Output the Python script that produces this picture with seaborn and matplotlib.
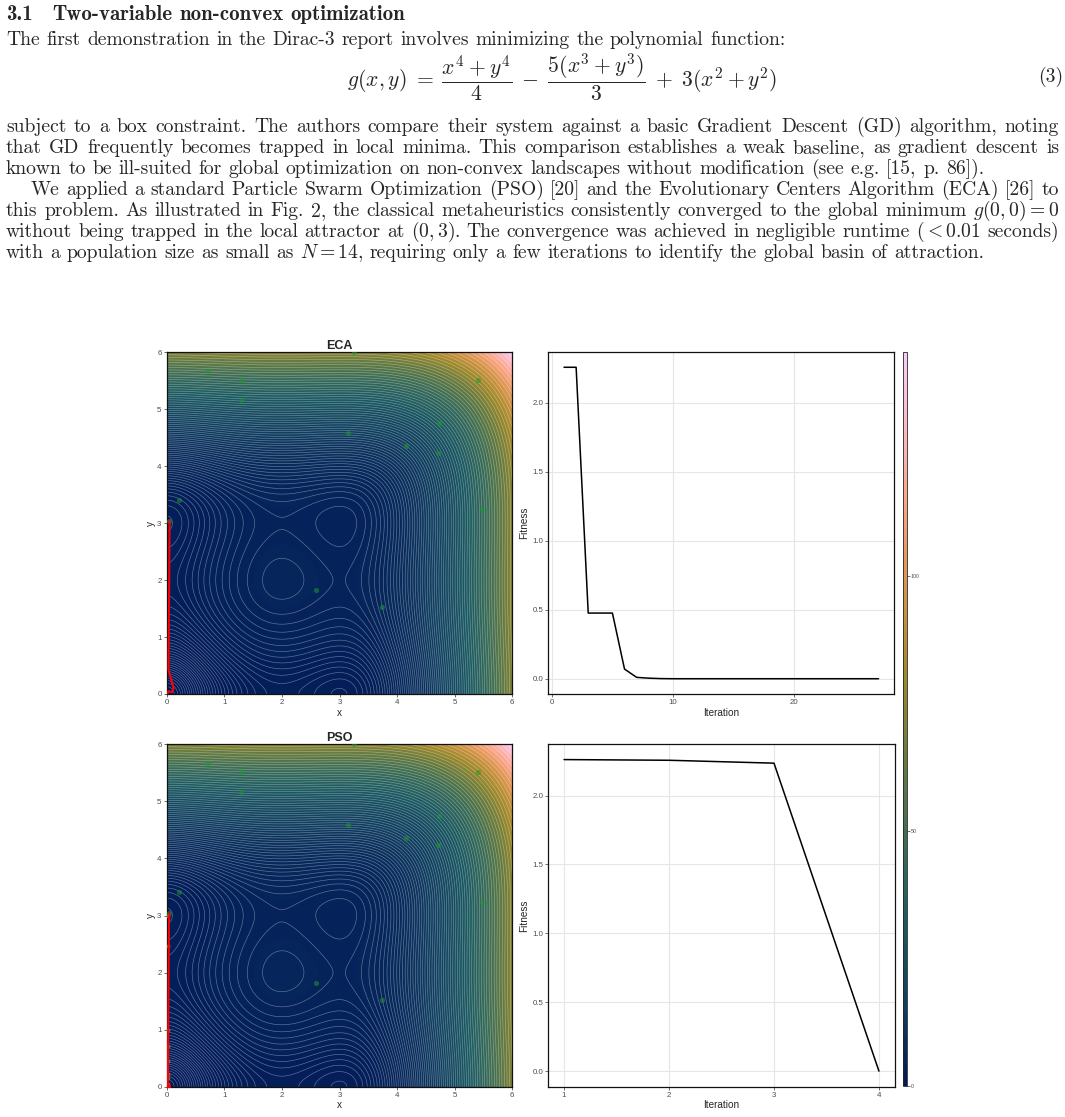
#!/usr/bin/env python3

import matplotlib
matplotlib.use("Agg")
from matplotlib import pyplot as plt
from matplotlib.colors import LinearSegmentedColormap
import numpy as np
import pandas as pd
import seaborn as sns


# g(x, y) = (x^4 + y^4)/4 - 5(x^3 + y^3)/3 + 3(x^2 + y^2)
coef_quartic = 1 / 4
coef_cubic = -5 / 3
coef_square = 3
box_lim = (0, 6)
cbar_ticks = [0, 50, 100]

# initial population (same seed for both runs)
pop_x = [3.26, 0.71, 1.31, 1.29, 5.40, 4.72, 3.14, 4.16, 4.71, 0.21, 0.04, 5.47, 2.59, 3.74]
pop_y = [6.00, 5.67, 5.51, 5.17, 5.51, 4.75, 4.58, 4.36, 4.23, 3.41, 3.04, 3.24, 1.82, 1.52]

# best-so-far trajectories
eca_path_x = [0.05, 0.04, 0.03, 0.12, 0.09, 0.03, 0.01]
eca_path_y = [3.04, 1.50, 0.43, 0.10, 0.03, 0.05, 0.01]
pso_path_x = [0.05, 0.05, 0.04, 0.02]
pso_path_y = [3.03, 3.02, 2.98, 0.02]

# final PSO swarm
pso_final_x = [0.03, 0.02, 0.02, 0.02, 0.02, 0.02, 0.02, 0.02]
pso_final_y = [3.00, 2.47, 1.00, 0.71, 0.45, 0.23, 0.16, 0.05]

eca_fitness = [2.258, 2.258, 0.476, 0.476, 0.476, 0.070, 0.010, 0.004, 0.001] + [0.0] * 18
pso_fitness = [2.261, 2.256, 2.235, 0.0]

batlow = LinearSegmentedColormap.from_list("batlow", [
        "#011959", "#103F60", "#1C5A62", "#3C6D56", "#687B3E",
        "#9D892B", "#D29343", "#F8A17B", "#FDB7BC", "#FACCFA",
        ])

heading_num = "3.1"
heading = "Two-variable non-convex optimization"
intro = "The first demonstration in the Dirac-3 report involves minimizing the polynomial function:"
formula = (r"$g(x,y)\;=\;\dfrac{x^4+y^4}{4}\;-\;\dfrac{5(x^3+y^3)}{3}"
           r"\;+\;3(x^2+y^2)$")
para1 = [
        "subject to a box constraint. The authors compare their system against a basic Gradient Descent (GD) algorithm, noting",
        "that GD frequently becomes trapped in local minima. This comparison establishes a weak baseline, as gradient descent is",
        "known to be ill-suited for global optimization on non-convex landscapes without modification (see e.g. [15, p. 86]).",
        ]
para2 = [
        "We applied a standard Particle Swarm Optimization (PSO) [20] and the Evolutionary Centers Algorithm (ECA) [26] to",
        "this problem. As illustrated in Fig. 2, the classical metaheuristics consistently converged to the global minimum $g(0,0)=0$",
        "without being trapped in the local attractor at $(0,3)$. The convergence was achieved in negligible runtime ($<0.01$ seconds)",
        "with a population size as small as $N=14$, requiring only a few iterations to identify the global basin of attraction.",
        ]


W, H = 1065, 1117
BODY = 14.1


def box(fig, l, t, r, b):
    return fig.add_axes([l / W, 1 - b / H, (r - l) / W, (b - t) / H])


def text_line(fig, line, base, x0=6, x1=1059, size=BODY, family="cmr10",
              justify=True, **kw):
    tokens = line.split()
    items = [fig.text(0, 1 - base / H, tk, fontsize=size, family=family,
                      va="baseline", **kw) for tk in tokens]
    rend = fig.canvas.get_renderer()
    widths = [t.get_window_extent(rend).width for t in items]
    if justify and len(items) > 1:
        gap = (x1 - x0 - sum(widths)) / (len(items) - 1)
    else:
        gap = size * 100 / 72 * 0.333
    x = x0
    for t, w in zip(items, widths):
        t.set_x(x / W)
        x += w + gap


def field_panel(ax, G, X, Y, title, path_x, path_y, extra=None):
    im = ax.imshow(G, extent=[*box_lim, *box_lim], origin="lower", cmap=batlow,
                   vmin=0, vmax=144, aspect="auto", interpolation="bilinear")
    levels = np.expm1(np.linspace(0, np.log1p(G.max()), 110))
    ax.contour(X, Y, G, levels=levels, colors="white", linewidths=0.45,
               alpha=0.38)
    sns.scatterplot(x=pop_x, y=pop_y, ax=ax, color="#1c9a2c", alpha=0.55,
                    s=14, linewidth=0, legend=False, zorder=3)
    if extra is not None:
        sns.scatterplot(x=extra[0], y=extra[1], ax=ax, color="#d08a30",
                        alpha=0.65, s=8, linewidth=0, legend=False, zorder=3)
    sns.lineplot(x=path_x, y=path_y, sort=False, estimator=None, ax=ax,
                 color="red", lw=1.5, zorder=4)
    if extra is not None:
        sns.scatterplot(x=path_x[-1:], y=path_y[-1:], ax=ax, color="red",
                        s=14, linewidth=0, legend=False, zorder=5)
    ax.set_xlim(*box_lim)
    ax.set_ylim(*box_lim)
    ax.set_xticks(range(7))
    ax.set_yticks(range(7))
    ax.set_xlabel("x", fontsize=7.2, labelpad=1)
    ax.set_ylabel("y", fontsize=7.2, labelpad=1)
    ax.set_title(title, fontsize=9, fontweight="bold", pad=1.5)
    return im


def fitness_panel(ax, fitness, xticks):
    df = pd.DataFrame({"Iteration": np.arange(1, len(fitness) + 1),
                       "Fitness": fitness})
    sns.lineplot(data=df, x="Iteration", y="Fitness", ax=ax, color="black",
                 lw=1.1)
    ax.set_xticks(xticks)
    ax.set_yticks([0, 0.5, 1.0, 1.5, 2.0])
    ax.set_yticklabels(["0.0", "0.5", "1.0", "1.5", "2.0"])
    ax.grid(color="#e6e6e6", lw=0.8)
    ax.set_axisbelow(True)
    ax.set_xlabel("Iteration", fontsize=7.2, labelpad=1)
    ax.set_ylabel("Fitness", fontsize=7.2, labelpad=2)


def style(ax):
    for s in ax.spines.values():
        s.set_linewidth(0.9)
        s.set_color("#111111")
    ax.tick_params(labelsize=5.7, length=2.2, width=0.5, pad=1.5,
                   colors="#333333", labelcolor="#4d4d4d")


def main():
    sns.set_theme(style="ticks")
    plt.rcParams["font.family"] = ["Liberation Sans", "DejaVu Sans"]
    plt.rcParams["mathtext.fontset"] = "cm"

    fig = plt.figure(figsize=(W / 100, H / 100), dpi=100)

    # page text
    text_line(fig, heading_num, 20, size=15, family="cmb10")
    text_line(fig, heading, 20, x0=52, size=15, family="cmb10", justify=False)
    text_line(fig, intro, 45, justify=False)
    fig.text(562 / W, 1 - 77 / H, formula, fontsize=15.6, family="cmr10",
             ha="center", va="center")
    text_line(fig, "(3)", 82, x0=1038, justify=False)
    for i, line in enumerate(para1):
        text_line(fig, line, 132 + 21 * i, justify=i < len(para1) - 1)
    for i, line in enumerate(para2):
        text_line(fig, line, 195 + 21 * i, x0=31 if i == 0 else 6,
                  justify=i < len(para2) - 1)

    # figure
    grid = np.linspace(*box_lim, 400)
    X, Y = np.meshgrid(grid, grid)
    G = (coef_quartic * (X ** 4 + Y ** 4) + coef_cubic * (X ** 3 + Y ** 3)
         + coef_square * (X ** 2 + Y ** 2))

    ax1 = box(fig, 166.7, 352.3, 512.3, 694)
    im = field_panel(ax1, G, X, Y, "ECA", eca_path_x, eca_path_y)
    ax3 = box(fig, 166.7, 744.3, 512.3, 1086.7)
    field_panel(ax3, G, X, Y, "PSO", pso_path_x, pso_path_y,
                extra=(pso_final_x, pso_final_y))

    ax2 = box(fig, 548.3, 351.7, 894.3, 694.3)
    fitness_panel(ax2, eca_fitness, [0, 10, 20])
    ax4 = box(fig, 548.3, 744, 894.7, 1086.7)
    fitness_panel(ax4, pso_fitness, [1, 2, 3, 4])

    for ax in (ax1, ax2, ax3, ax4):
        style(ax)

    cax = box(fig, 902.5, 352, 906.5, 1086)
    cb = fig.colorbar(im, cax=cax, ticks=cbar_ticks)
    cb.outline.set_linewidth(0.6)
    cax.tick_params(labelsize=3.8, length=1.8, width=0.5, pad=1,
                    colors="#333333", labelcolor="#4d4d4d")

    plt.savefig("out.png", dpi=100)


if __name__ == "__main__":
    main()
